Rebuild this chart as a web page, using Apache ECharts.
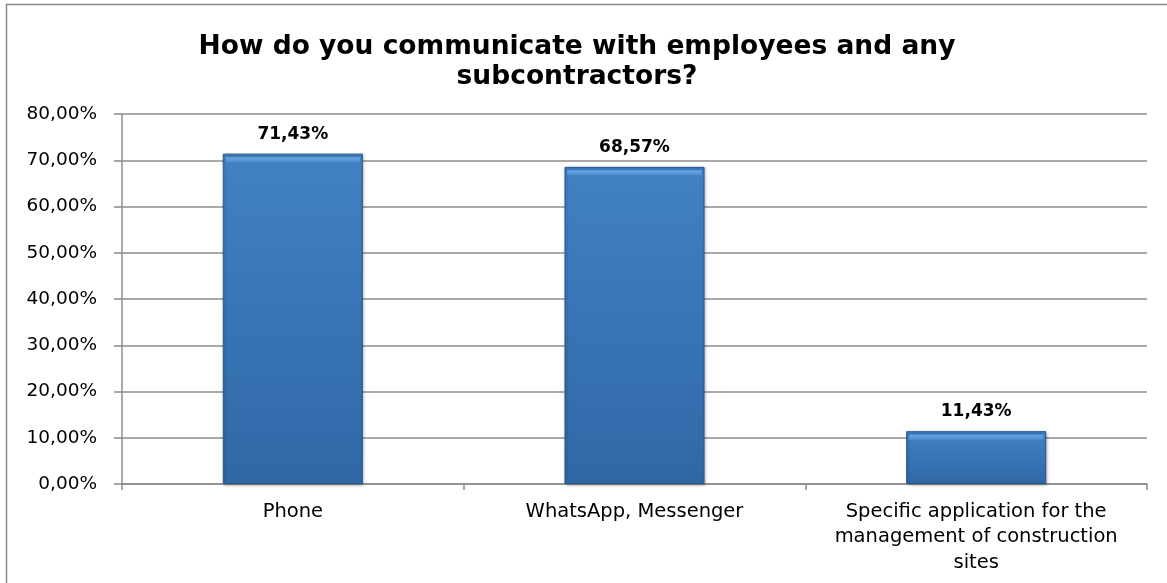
<!DOCTYPE html>
<html><head><meta charset="utf-8">
<script src="https://cdn.jsdelivr.net/npm/echarts@6/dist/echarts.min.js"></script>
<style>html,body{margin:0;padding:0;background:#fff}#c{width:1167px;height:583px}</style>
</head><body><div id="c"></div>
<script>
const titleText = 'How do you communicate with employees and any\nsubcontractors?';
const categories = ['Phone', 'WhatsApp, Messenger', 'Specific application for the\nmanagement of construction\nsites'];
const values = [71.43, 68.57, 11.43];
const yTicks = {min: 0, max: 80, interval: 10};

const chart = echarts.init(document.getElementById('c'));
const barColor = new echarts.graphic.LinearGradient(0, 0, 0, 1, [
  {offset: 0, color: '#4181c3'},
  {offset: 1, color: '#3068a7'}
]);
const bevelColor = new echarts.graphic.LinearGradient(0, 0, 0, 1, [
  {offset: 0, color: '#6aa8e4'},
  {offset: 1, color: '#4c8dcf'}
]);
const pct = v => v.toFixed(2).replace('.', ',') + '%';
chart.setOption({
  animation: false,
  graphic: [{
    type: 'rect', shape: {x: 6.5, y: 4.5, width: 1200, height: 620},
    style: {fill: 'none', stroke: '#8a8a8a', lineWidth: 1.5}, silent: true
  }],
  title: {
    text: titleText, left: 572, top: 27, textAlign: 'center',
    textStyle: {fontFamily: 'DejaVu Sans', fontWeight: 'bold', fontSize: 26.5, lineHeight: 30, color: '#000'}
  },
  grid: {left: 122, right: 20, top: 114, bottom: 99, containLabel: false},
  xAxis: {
    type: 'category', data: categories,
    axisLine: {lineStyle: {color: '#8c8c8c', width: 1.5}},
    axisTick: {show: true, length: 6, lineStyle: {color: '#8c8c8c', width: 1.5}},
    axisLabel: {interval: 0, margin: 15, fontFamily: 'DejaVu Sans', fontSize: 19.5, lineHeight: 25.5, color: '#000', align: 'center'}
  },
  yAxis: {
    type: 'value', min: yTicks.min, max: yTicks.max, interval: yTicks.interval,
    axisLine: {show: true, lineStyle: {color: '#8c8c8c', width: 1.5}},
    axisTick: {show: true, length: 8, lineStyle: {color: '#8c8c8c', width: 1.5}},
    splitLine: {lineStyle: {color: '#8c8c8c', width: 1.5}},
    axisLabel: {margin: 25, fontFamily: 'DejaVu Sans', fontSize: 18.5, color: '#000', formatter: pct}
  },
  series: [{
    type: 'bar', data: values, barWidth: '41%', z: 2,
    itemStyle: {color: barColor, borderColor: '#2a5a92', borderWidth: 1, shadowColor: 'rgba(0,0,0,0.3)', shadowBlur: 3, shadowOffsetX: 1, shadowOffsetY: 1},
    label: {show: true, position: 'top', distance: 11, fontFamily: 'DejaVu Sans', fontWeight: 'bold', fontSize: 17, color: '#000',
      formatter: p => pct(p.value)}
  }, {
    type: 'pictorialBar', data: values, barWidth: '41%', barGap: '-100%', z: 3, silent: true,
    symbol: 'rect', symbolSize: ['96%', 5], symbolPosition: 'end', symbolOffset: [0, 3.5],
    itemStyle: {color: bevelColor}
  }]
});
</script></body></html>
